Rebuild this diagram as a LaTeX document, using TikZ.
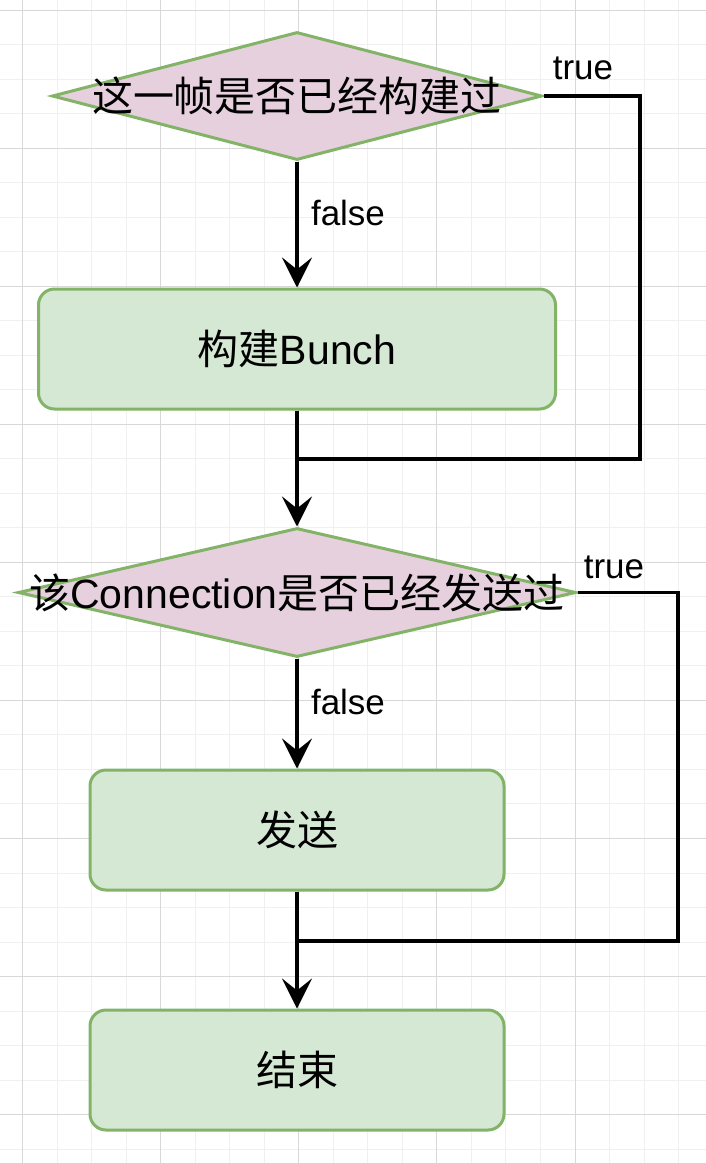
\documentclass[tikz,border=0pt]{standalone}
\usepackage{fontspec}
\setmainfont{Liberation Sans}
\newfontfamily\cjk{Noto Sans CJK SC}
\usetikzlibrary{shapes.geometric,arrows.meta}
\definecolor{gfill}{HTML}{D5E8D4}
\definecolor{pfill}{HTML}{E6D0DE}
\definecolor{gstroke}{HTML}{82B366}
\definecolor{minorg}{HTML}{F0F0F0}
\definecolor{majorg}{HTML}{D8D8D8}
\begin{document}
\begin{tikzpicture}[x=1pt,y=-1pt,
  box/.style={draw=gstroke, fill=gfill, line width=3pt, rounded corners=16pt, minimum height=120pt, inner sep=0pt, font=\fontsize{41pt}{49pt}\selectfont},
  dia/.style={draw=gstroke, fill=pfill, line width=3pt, diamond, inner sep=0pt},
  dtext/.style={inner sep=0pt, font=\fontsize{41pt}{49pt}\selectfont},
  lbl/.style={inner sep=0pt, font=\fontsize{35pt}{42pt}\selectfont},
  conn/.style={line width=3.3pt, black},
  arr/.style={conn, -{Stealth[length=30pt,width=30pt,inset=12pt]}},
  minorline/.style={draw=minorg, line width=1pt},
  majorline/.style={draw=majorg, line width=1pt},
]
\useasboundingbox (0,0) rectangle (706,1163);
\fill[white] (0,0) rectangle (706,1163);
% grid
\foreach \i in {0,...,19} {\draw[minorline] ({22.7+\i*34.52},0) -- ({22.7+\i*34.52},1163);}
\foreach \j in {0,...,33} {\draw[minorline] (0,{10+\j*34.52}) -- (706,{10+\j*34.52});}
\foreach \i in {0,...,4} {\draw[majorline] ({22.7+\i*138.08},0) -- ({22.7+\i*138.08},1163);}
\foreach \j in {0,...,8} {\draw[majorline] (0,{10+\j*138.08}) -- (706,{10+\j*138.08});}

% nodes
\node[dia, minimum width=490pt, minimum height=128pt] (d1) at (297,96) {};
\node[dtext] (d1t) at (d1.center) {\cjk 这一帧是否已经构建过};
\node[box, minimum width=517pt] (b1) at (297,349) {{\cjk 构建}Bunch};
\node[dia, minimum width=558pt, minimum height=129pt] (d2) at (297,592.5) {};
\node[dtext] (d2t) at (d2.center) {{\cjk 该}Connection{\cjk 是否已经发送过}};
\node[box, minimum width=414pt] (b2) at (297,830) {\cjk 发送};
\node[box, minimum width=414pt] (b3) at (297,1070) {\cjk 结束};

% labels
\node[lbl, anchor=base] (f1) at (348,225) {false};
\node[lbl, anchor=base] (f2) at (348,714) {false};
\node[lbl, anchor=base] (t1) at (583,79) {true};
\node[lbl, anchor=base] (t2) at (614,578) {true};

% helper coordinates
\coordinate (r1) at (640,459);
\coordinate (j1) at (297,459);
\coordinate (r2) at (678,941);
\coordinate (j2) at (297,941);

% connectors
\draw[arr] (d1.south) -- (b1.north);
\draw[conn] (d1.east) -| (r1) -- (j1);
\draw[arr] (b1.south) -- (d2.north);
\draw[arr] (d2.south) -- (b2.north);
\draw[conn] (d2.east) -| (r2) -- (j2);
\draw[arr] (b2.south) -- (b3.north);
\end{tikzpicture}
\end{document}
